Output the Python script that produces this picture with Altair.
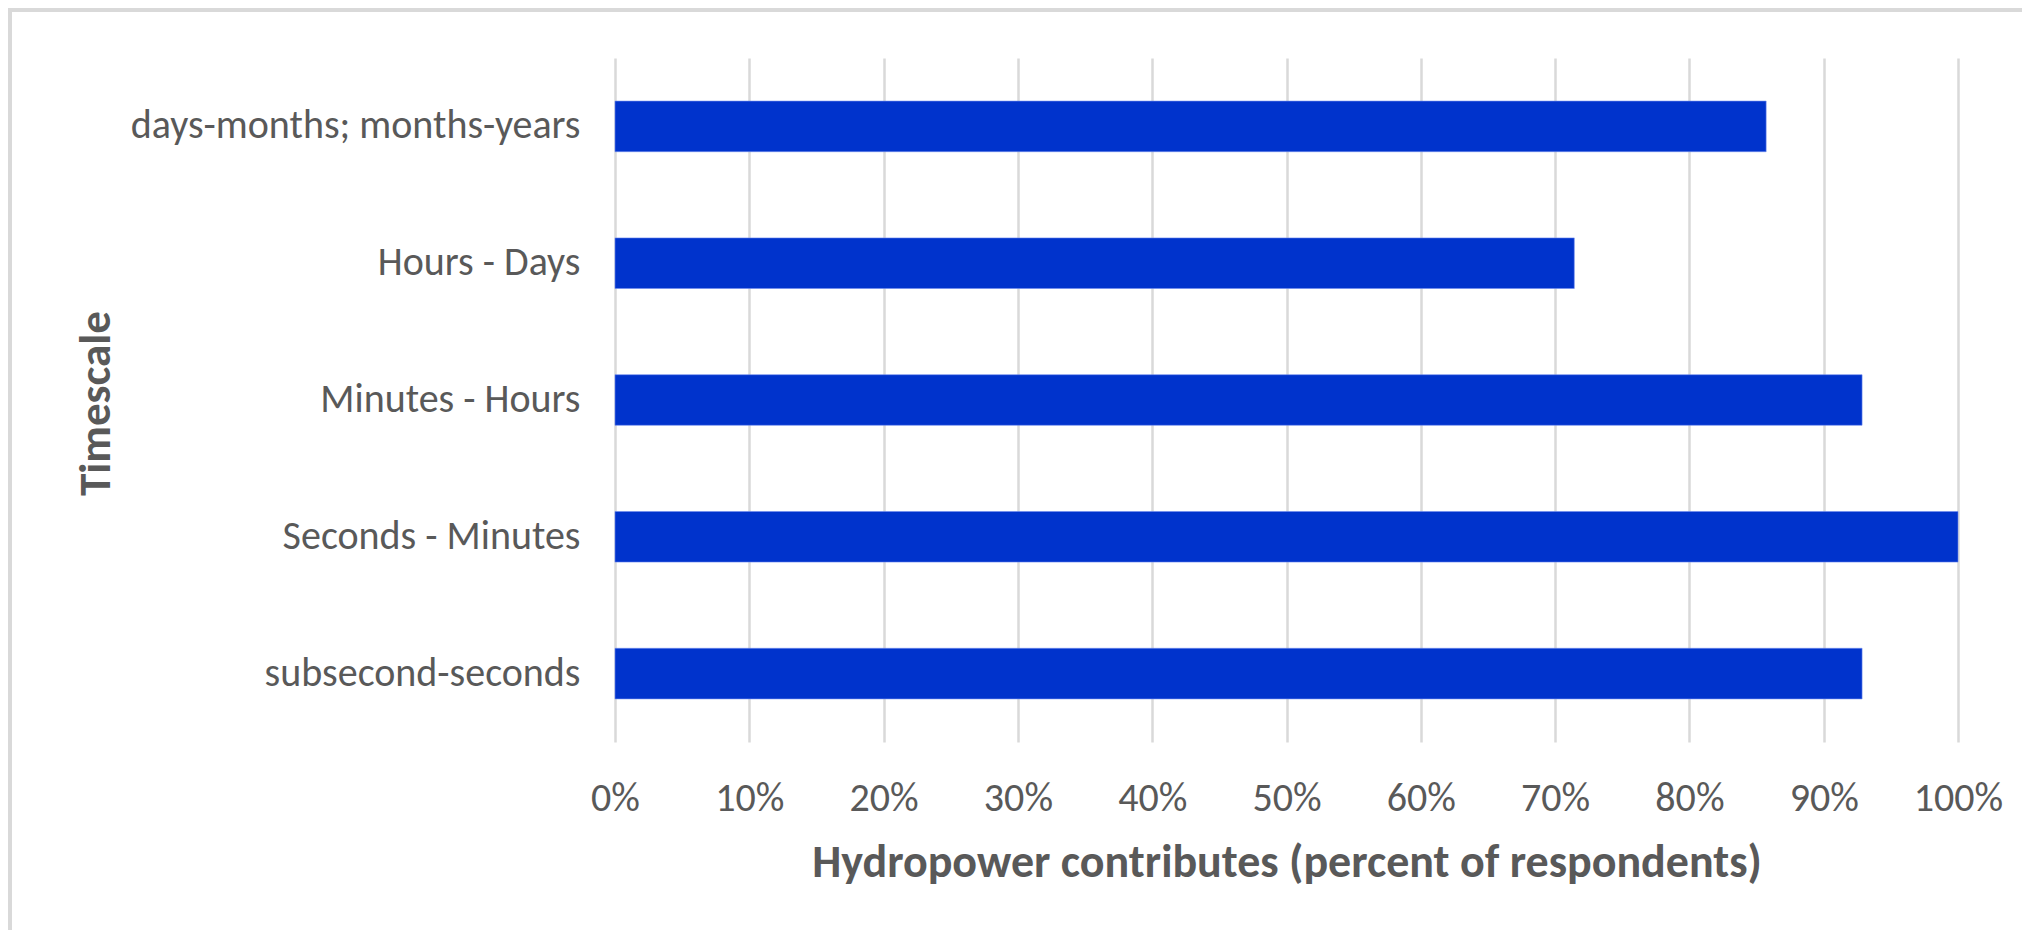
import altair as alt
import pandas as pd

categories = ["days-months; months-years", "Hours - Days", "Minutes - Hours",
              "Seconds - Minutes", "subsecond-seconds"]
values = [6/7, 5/7, 13/14, 1.0, 13/14]
tick_values = [0, 0.1, 0.2, 0.3, 0.4, 0.5, 0.6, 0.7, 0.8, 0.9, 1.0]

FONT = "Carlito, Calibri, 'Open Sans', sans-serif"
GRAY = "#595959"

df = pd.DataFrame({"Timescale": categories, "value": values})

bars = alt.Chart(df).mark_bar(color="#0033CC", stroke="#6f8cf0", strokeWidth=0.6).encode(
    y=alt.Y("Timescale:N", sort=categories,
            scale=alt.Scale(paddingInner=0.63, paddingOuter=0.315),
            axis=alt.Axis(title="Timescale", labelFontSize=40, labelColor=GRAY,
                          labelFont=FONT, labelPadding=35, ticks=False, domain=False,
                          grid=False, labelLimit=1000,
                          titleFont=FONT, titleFontSize=45, titleFontWeight="bold",
                          titleColor=GRAY, titleX=-520, titleY=345, titleAngle=-90,
                          titleAlign="center", titleBaseline="middle")),
    x=alt.X("value:Q", scale=alt.Scale(domain=[0, 1], nice=False),
            axis=alt.Axis(title="Hydropower contributes (percent of respondents)",
                          values=tick_values, format=".0%", labelFontSize=40,
                          labelColor=GRAY, labelFont=FONT, labelPadding=36,
                          ticks=False, domain=False, grid=True, gridColor="#D9D9D9",
                          gridWidth=2.5, labelFlush=False,
                          titleFont=FONT, titleFontSize=46, titleFontWeight="bold",
                          titleColor=GRAY, titlePadding=22)),
)

border = alt.Chart(pd.DataFrame({"a": [0]})).mark_rect(
    fill="transparent", stroke="#D9D9D9", strokeWidth=4
).encode(x=alt.value(-605), x2=alt.value(1440), y=alt.value(-48), y2=alt.value(900))

chart = alt.layer(border, bars).properties(
    width=1343, height=684,
    autosize=alt.AutoSizeParams(type="none"),
    padding={"left": 607, "top": 50, "right": 64, "bottom": 188},
    background="white",
).configure_view(stroke=None)

chart.save("out.html", embed_options={"renderer": "svg", "actions": False})
